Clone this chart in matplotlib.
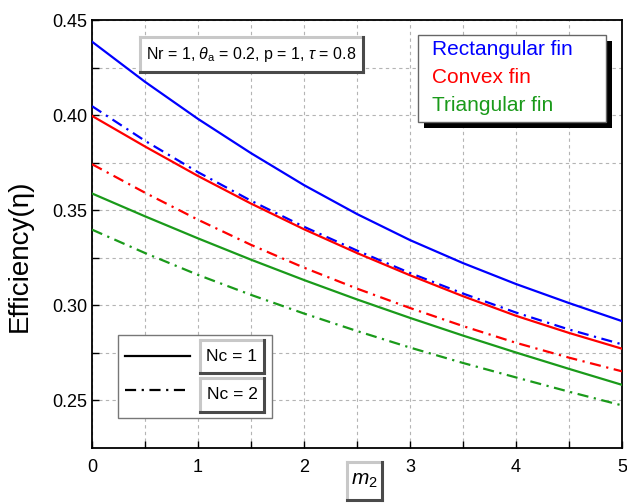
import matplotlib
matplotlib.use("Agg")
import matplotlib.pyplot as plt
from matplotlib.patches import Rectangle
from matplotlib.lines import Line2D

plt.rcParams['font.family'] = ['Liberation Sans', 'DejaVu Sans']
plt.rcParams['mathtext.fontset'] = 'custom'
plt.rcParams['mathtext.rm'] = 'Liberation Sans'
plt.rcParams['mathtext.it'] = 'Liberation Sans:italic'

# Fin parameter m2
m2 = [0, 0.5, 1, 1.5, 2, 2.5, 3, 3.5, 4, 4.5, 5]

# Efficiency for each fin profile, Nc = 1 and Nc = 2
rect_nc1 = [0.4386, 0.4175, 0.3980, 0.3800, 0.3632, 0.3480, 0.3343, 0.3222, 0.3112, 0.3012, 0.2917]
rect_nc2 = [0.4047, 0.3865, 0.3700, 0.3550, 0.3413, 0.3288, 0.3170, 0.3062, 0.2962, 0.2873, 0.2795]
conv_nc1 = [0.3996, 0.3835, 0.3680, 0.3535, 0.3400, 0.3275, 0.3158, 0.3048, 0.2945, 0.2855, 0.2772]
conv_nc2 = [0.3742, 0.3592, 0.3450, 0.3318, 0.3198, 0.3088, 0.2986, 0.2891, 0.2803, 0.2725, 0.2653]
tri_nc1 = [0.3588, 0.3468, 0.3352, 0.3240, 0.3133, 0.3031, 0.2934, 0.2841, 0.2752, 0.2666, 0.2582]
tri_nc2 = [0.3398, 0.3275, 0.3160, 0.3055, 0.2957, 0.2865, 0.2778, 0.2697, 0.2621, 0.2546, 0.2474]

fin_names = ["Rectangular fin", "Convex fin", "Triangular fin"]
fin_colors = ["#0000ff", "#ff0000", "#1a9a1a"]
nc_labels = ["Nc = 1", "Nc = 2"]

DASHDOT = (0, (5, 2.5, 1, 2.5))

fig = plt.figure(figsize=(6.27, 5.03), dpi=100)
ax = fig.add_axes([92 / 627, 1 - 448 / 503, 530 / 627, 428 / 503])

series = [(rect_nc1, rect_nc2), (conv_nc1, conv_nc2), (tri_nc1, tri_nc2)]
for (s1, s2), c in zip(series, fin_colors):
    ax.plot(m2, s1, color=c, lw=1.6, ls='-', zorder=3)
    ax.plot(m2, s2, color=c, lw=1.6, ls=DASHDOT, zorder=3)

ax.set_xlim(0, 5)
ax.set_ylim(0.225, 0.45)
ax.set_xticks([0, 1, 2, 3, 4, 5])
ax.set_xticks([0.5, 1.5, 2.5, 3.5, 4.5], minor=True)
ax.set_yticks([0.25, 0.30, 0.35, 0.40, 0.45])
ax.set_yticks([0.275, 0.325, 0.375, 0.425], minor=True)
ax.set_yticklabels(["0.25", "0.30", "0.35", "0.40", "0.45"])
ax.tick_params(which='both', direction='in', labelsize=13, length=5, width=1,
               top=False, right=False)
ax.tick_params(axis='x', pad=8)
ax.grid(True, which='both', color='#b4b4b4', ls=(0, (3, 3)), lw=0.8)
for sp in ax.spines.values():
    sp.set_linewidth(1.3)
ax.set_ylabel("Efficiency(η)", fontsize=20)
ax.yaxis.set_label_coords(-0.111, 0.45)


def bevel_box(axis_or_fig, x0, y0, x1, y1, transform, text, fontsize, **kw):
    """White box with a light top/left edge and dark bottom/right edge."""
    axis_or_fig.add_artist(Rectangle((x0, y0), x1 - x0, y1 - y0, transform=transform,
                                     facecolor='white', edgecolor='none', zorder=5,
                                     clip_on=False))
    light, dark = '#c8c8c8', '#4a4a4a'
    for xs, ys, col in [((x0, x0), (y0, y1), light), ((x0, x1), (y1, y1), light),
                        ((x1, x1), (y0, y1), dark), ((x0, x1), (y0, y0), dark)]:
        axis_or_fig.add_artist(Line2D(xs, ys, transform=transform, color=col, lw=2.2,
                                      zorder=6, clip_on=False, solid_capstyle='projecting'))
    axis_or_fig.text((x0 + x1) / 2, (y0 + y1) / 2, text, transform=transform,
                     ha='center', va='center', fontsize=fontsize, zorder=7, **kw)


# parameter annotation
bevel_box(ax, 0.0906, 0.8785, 0.5113, 0.9603, ax.transAxes,
          r"Nr = 1, $\theta_\mathrm{a}$ = 0.2, p = 1, $\tau$ = 0.8", 11.5)

# fin legend with drop shadow
ax.add_patch(Rectangle((0.626, 0.748), 0.355, 0.203, transform=ax.transAxes,
                       facecolor='black', edgecolor='none', zorder=5))
ax.add_patch(Rectangle((0.615, 0.762), 0.355, 0.203, transform=ax.transAxes,
                       facecolor='white', edgecolor='#666666', lw=1, zorder=6))
for name, c, fy in zip(fin_names, fin_colors, [0.9322, 0.8668, 0.8014]):
    ax.text(0.6415, fy, name, color=c, fontsize=15, transform=ax.transAxes,
            ha='left', va='center', zorder=7)

# line-style legend
ax.add_patch(Rectangle((0.049, 0.070), 0.2906, 0.194, transform=ax.transAxes,
                       facecolor='white', edgecolor='#777777', lw=1, zorder=5))
for ls, fy, lab, (by0, by1) in zip(['-', DASHDOT], [0.215, 0.1355], nc_labels,
                                   [(0.1752, 0.2523), (0.0841, 0.1636)]):
    ax.add_line(Line2D([0.0623, 0.1849], [fy, fy], transform=ax.transAxes,
                       color='black', lw=1.6, ls=ls, zorder=6))
    bevel_box(ax, 0.2038, by0, 0.3245, by1, ax.transAxes, lab, 12.5)

# x-axis label in a bevelled box
bevel_box(fig, 347 / 627, 1 - 500 / 503, 382 / 627, 1 - 462 / 503, fig.transFigure,
          r"$m_2$", 15)

fig.savefig("out.png", dpi=100)
